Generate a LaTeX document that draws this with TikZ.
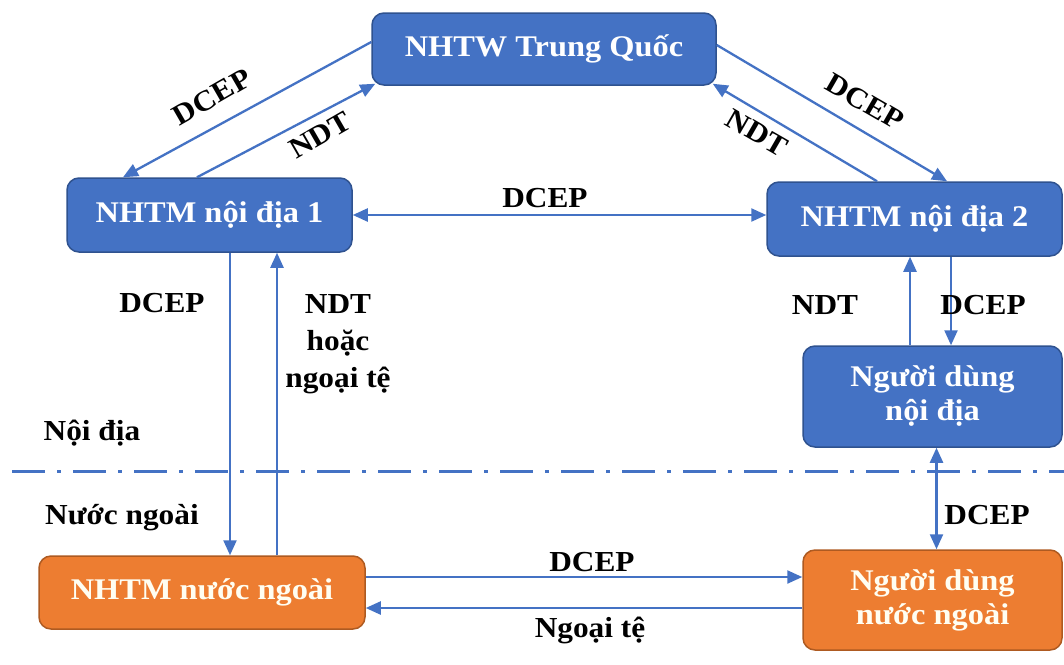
\documentclass[tikz,border=0pt]{standalone}
\usepackage{fontspec}
\setmainfont{Liberation Serif}[FakeStretch=1.08]
\usetikzlibrary{arrows.meta}
\definecolor{bfill}{HTML}{4472C4}
\definecolor{bdraw}{HTML}{2F528F}
\definecolor{ofill}{HTML}{ED7D31}
\definecolor{odraw}{HTML}{AE5A21}
\definecolor{lcol}{HTML}{4472C4}
\begin{document}
\begin{tikzpicture}[x=1pt,y=-1pt,
  bluebox/.style={draw=bdraw,line width=1.5pt,fill=bfill,rounded corners=12pt,
    text=white,align=center,inner sep=0pt,
    font=\bfseries\fontsize{30}{34}\selectfont},
  orangebox/.style={bluebox,draw=odraw,fill=ofill,text={white!95!yellow}},
  lbl/.style={font=\bfseries\fontsize{29}{37}\selectfont,text=black,align=center,inner sep=0pt},
  conn/.style={draw=lcol,line width=2.3pt,-{Triangle[length=15pt,width=13pt]}},
  conn2/.style={draw=lcol,line width=2.3pt,{Triangle[length=15pt,width=13pt]}-{Triangle[length=15pt,width=13pt]}},
  sepline/.style={draw=lcol,line width=3pt,dash pattern=on 33pt off 12pt on 4pt off 12pt}]
\fill[white] (0,0) rectangle (1064,664);
\useasboundingbox (0,0) rectangle (1064,664);

% boxes
\node[bluebox,minimum width=344pt,minimum height=72pt] (c) at (544,49) {NHTW Trung Quốc};
\node[bluebox,minimum width=285pt,minimum height=74pt] (b1) at (209.5,215) {NHTM nội địa 1};
\node[bluebox,minimum width=295pt,minimum height=74pt] (b2) at (914.5,219) {NHTM nội địa 2};
\node[bluebox,minimum width=259pt,minimum height=101pt] (u1) at (932.5,396.5) {Người dùng\\nội địa};
\node[orangebox,minimum width=259pt,minimum height=100pt] (u2) at (932.5,600) {Người dùng\\nước ngoài};
\node[orangebox,minimum width=326pt,minimum height=73pt] (f1) at (202,592.5) {NHTM nước ngoài};

% separator
\coordinate (sepL) at (12,471);
\coordinate (sepR) at (1064,471);
\draw[sepline] (sepL) -- (sepR);

% diagonal connectors
\draw[conn] ([yshift=7pt]c.west) -- ([xshift=-86.5pt]b1.north);
\draw[conn] ([xshift=-12.5pt]b1.north) -- ([xshift=4pt,yshift=2pt]c.south west);
\draw[conn] ([yshift=4pt]c.east) -- ([xshift=32.5pt]b2.north);
\draw[conn] ([xshift=-37.5pt]b2.north) -- ([xshift=-4pt,yshift=2pt]c.south east);

% horizontal between domestic banks
\draw[conn2] (b1.east) -- (b1.east -| b2.west);

% left verticals
\draw[conn] ([xshift=20.5pt]b1.south) -- ([xshift=28pt]f1.north);
\draw[conn] ([xshift=75pt]f1.north) -- ([xshift=67.5pt]b1.south);

% right verticals
\draw[conn] ([xshift=-22.5pt]u1.north) -- ([xshift=-4.5pt]b2.south);
\draw[conn] ([xshift=36.5pt]b2.south) -- ([xshift=18.5pt]u1.north);
\draw[conn2] ([xshift=4pt]u1.south) -- ([xshift=4pt]u2.north);

% bottom horizontals
\coordinate (p1) at ([yshift=15.5pt]f1.east);
\draw[conn] (p1) -- (p1 -| u2.west);
\coordinate (p2) at ([yshift=-8pt]u2.west);
\draw[conn] (p2) -- (p2 -| f1.east);

% labels
\node[lbl,rotate=30] (l1) at (212,97) {DCEP};
\node[lbl,rotate=30] (l2) at (320,135) {NDT};
\node[lbl,rotate=-30] (l3) at (865,102) {DCEP};
\node[lbl,rotate=-30] (l4) at (757,133) {NDT};
\node[lbl] (l5) at (545,198) {DCEP};
\node[lbl] (l6) at (162,303) {DCEP};
\node[lbl,anchor=north] (l7) at (338,294) {NDT\\hoặc\\ngoại tệ};
\node[lbl] (l8) at (825,305) {NDT};
\node[lbl] (l9) at (983,305) {DCEP};
\node[lbl] (l10) at (987,515) {DCEP};
\node[lbl] (l11) at (92,433) {Nội địa};
\node[lbl] (l12) at (122,518) {Nước ngoài};
\node[lbl] (l13) at (592,562) {DCEP};
\node[lbl] (l14) at (590,630) {Ngoại tệ};
\end{tikzpicture}
\end{document}
